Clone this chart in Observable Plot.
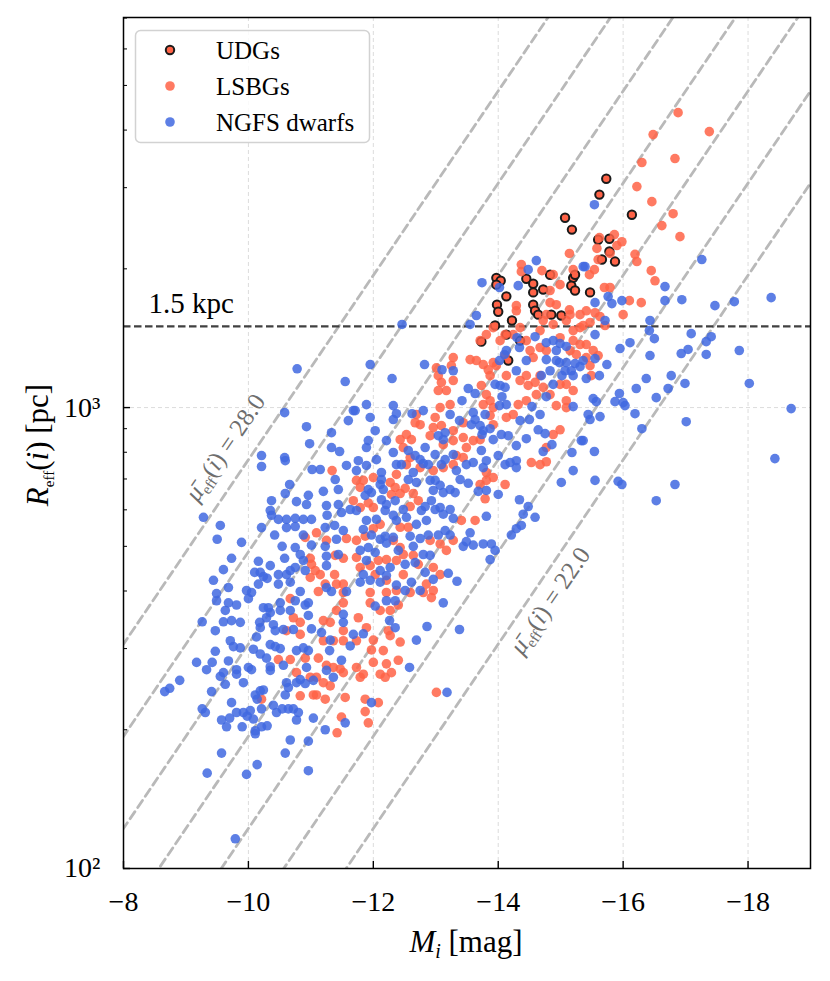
<!DOCTYPE html>
<html><head><meta charset="utf-8">
<script src="https://cdn.jsdelivr.net/npm/d3@7"></script>
<script src="https://cdn.jsdelivr.net/npm/@observablehq/plot@0.6"></script>
<style>
body{margin:0;background:#fff;}
#wrap{width:830px;height:981px;}
</style></head><body><div id="wrap"></div>
<script>
// ---- tick values ----
const xTicks = [-8,-10,-12,-14,-16,-18];
const yMajor = [100, 1000];
const yMinor = [200,300,400,500,600,700,800,900,2000,3000,4000,5000,6000,7000];
// ---- reference lines ----
const muLevels = [22,23,24,25,26,27,28];
const muLabelLevel = [28, 22];
const muLabelM = [-9.63, -14.83];
const muLabelR = [819, 381];
const sizeLimit = 1500; // pc
const legendNames = ["UDGs","LSBGs","NGFS dwarfs"];

// ---- data: [M_i, R_eff (pc)] ----
const udg = [[-15.07,2582],[-15.18,2433],[-13.97,1912],[-14.04,1884],[-13.97,1848],[-14.45,1903],[-14.56,1856],[-14.83,1942],[-14.13,1743],[-14.56,1778],[-14.72,1804],[-15.20,1912],[-15.23,1942],[-15.17,1839],[-15.23,1795],[-13.98,1672],[-14.56,1672],[-15.73,3136],[-15.62,2898],[-16.14,2620],[-15.60,2313],[-15.78,2324],[-15.78,2182],[-15.66,2095],[-15.87,2074],[-15.47,1778],[-13.95,1507],[-14.22,1545],[-14.00,1614],[-14.59,1622],[-14.64,1591],[-14.85,1591],[-15.01,1584],[-14.13,1440],[-13.73,1390],[-14.35,1397],[-14.16,1265]];

const lsbg = [[-15.14,2160],[-14.37,2043],[-14.37,1972],[-14.70,1982],[-14.88,1943],[-14.99,1848],[-14.83,1795],[-15.20,1992],[-14.29,1664],[-14.83,1689],[-14.93,1672],[-15.14,1630],
[-16.88,4364],[-16.48,3911],[-17.38,3970],[-16.30,3402],[-16.83,3470],[-16.22,3016],[-16.46,2798],[-16.80,2634],[-16.62,2482],[-16.91,2349],[-15.86,2373],[-15.62,2337],[-15.98,2290],[-15.90,2247],[-15.58,2215],[-15.79,2160],[-15.60,2095],[-16.19,2150],[-16.22,2074],[-15.54,1992],[-15.46,1943],[-16.45,1982],[-16.51,1884],[-15.70,1822],[-15.79,1822],[-16.10,1706],[-16.29,1689],
[-16.00,1591],[-15.41,1622],[-15.55,1606],[-15.63,1576],[-15.47,1530],[-15.71,1507],[-15.36,1507],[-15.41,1370],[-15.52,1330],[-15.41,1284],[-15.60,1297],[-15.47,1233],[-15.49,1173],
[-11.34,730],[-11.09,535],[-10.91,523],[-11.57,520],[-11.25,515],[-10.99,471],[-11.01,457],[-11.39,478],[-11.52,471],[-11.07,443],[-11.15,434],[-10.99,428],[-11.38,434],[-11.41,414],[-11.52,414],[-11.23,414],[-11.12,399],[-11.52,397],
[-10.67,385],[-10.48,284],[-10.67,284],[-10.77,266],[-10.91,286],[-10.83,237],[-11.04,238],[-11.09,238],[-11.23,233],[-10.21,233],[-11.25,276],[-11.36,273],[-11.47,271],[-11.52,266],[-11.55,235],[-11.49,213],[-11.42,197],[-11.12,286],[-11.20,253],[-11.31,249],[-11.20,312],[-11.36,312],[-11.52,312],[-11.52,328],[-11.31,342],[-11.20,345],[-11.41,363],[-11.52,377],[-11.09,260],[-10.99,260],[-10.61,328],[-10.83,342],[-10.83,322],[-10.72,350],
[-11.95,377],[-12.11,363],[-12.27,363],[-12.40,373],[-11.76,350],[-11.89,333],[-12.24,328],[-12.27,320],[-12.43,310],[-11.73,312],[-12.00,313],[-11.97,298],[-12.16,297],[-12.40,283],[-12.21,278],[-12.00,280],[-11.73,273],[-11.84,264],[-11.79,260],[-12.11,264],[-12.19,260],[-12.29,266],[-11.87,233],[-12.08,229],[-11.87,219],[-11.92,207],[-13.01,241],[-12.93,387],
[-13.71,1397],[-13.81,1440],[-13.92,1491],[-14.11,1440],[-14.03,1397],[-13.55,1271],[-13.65,1265],[-13.76,1240],[-13.84,1208],[-13.87,1173],[-13.92,1252],[-13.28,1284],[-13.25,1233],[-13.01,1220],[-13.04,1173],[-13.09,1134],[-13.04,1089],[-13.17,1089],[-13.28,1145],[-13.73,1117],[-13.81,1067],[-13.87,1035],[-13.76,1015],[-13.92,1000],[-13.87,961],[-13.92,918],[-13.71,852],[-13.60,848],[-13.44,861],[-13.49,819],[-13.28,848],[-13.12,831],[-13.28,891],[-13.44,927],[-13.23,1015],[-13.07,1000],[-12.99,952],[-13.09,914],[-12.96,905],[-12.91,869],[-12.75,918],[-12.67,927],[-12.69,966],[-12.61,852],[-12.53,874],[-12.43,852],[-12.48,819],[-12.59,779],[-12.53,752],[-12.75,741],[-12.96,730],[-13.12,741],[-13.28,752],[-13.33,787],[-13.44,779],[-13.81,723],[-13.92,705],[-13.81,695],[-13.71,681],[-13.79,634],[-14.11,681],[-14.53,760],[-14.77,763],[-12.37,716],[-12.27,688],[-12.35,671],[-12.43,651],[-12.51,668],[-12.64,651],[-12.72,628],[-12.59,610],[-12.29,648],[-12.00,705],[-11.84,695],[-11.73,695],[-11.79,671],[-12.00,607],[-11.79,607],[-11.92,621],[-11.68,628],[-12.11,558],[-12.00,546],[-11.87,526],[-11.73,515],[-12.43,550],[-12.56,550],[-12.32,515],[-12.43,497],[-12.48,480],[-12.64,478],[-12.72,457],[-12.37,466],[-12.21,468],[-12.08,466],[-11.95,454],[-11.73,473],[-11.79,450],[-12.03,434],[-12.21,422],[-12.48,434],[-12.91,515],[-13.07,506],[-13.17,490],[-13.28,515],[-13.41,569],[-13.63,569],[-12.96,450],[-13.07,434],[-12.85,414],[-12.96,401],[-12.80,397],[-12.59,397],[-12.21,397],[-11.95,397],[-12.37,401],
[-14.45,1173],[-14.59,1134],[-14.48,1117],[-14.35,1145],[-14.61,1067],[-14.32,1015],[-14.45,1035],[-14.24,966],[-14.13,952],[-14.67,1173],[-14.72,1106],[-14.83,1067],[-14.93,1010],[-15.09,1035],[-15.20,1089],[-15.09,1123],[-14.99,1123],[-14.51,1330],[-14.67,1350],[-14.56,1284],[-14.77,1330],[-15.15,1330],[-15.25,1304],[-15.31,1370],[-15.20,1397],[-14.99,1418],[-14.88,1515],[-14.67,1469],[-14.45,1397],[-14.24,1440],[-14.35,1491],[-14.72,1545],[-15.09,1545],[-15.20,1469],[-15.31,1491],[-15.15,1591],[-14.77,1591],[-14.29,1622],[-15.31,1591],[-14.11,1297],[-13.97,1233],[-14.13,1173],[-14.67,752],[-15.09,1000],[-14.99,895],[-14.88,874],[-14.77,819]];

const ngfs = [[-14.61,2084],[-14.48,1992],[-13.74,1866],[-14.32,1839],[-14.02,1822],[-15.36,2022],[-15.54,2755],[-15.39,2022],[-17.26,2095],[-16.67,1830],[-15.76,1741],[-15.55,1689],[-15.82,1681],[-15.98,1706],[-16.67,1706],[-16.94,1714],[-17.47,1664],[-17.78,1697],[-18.37,1732],
[-15.71,1545],[-16.43,1545],[-15.55,1440],[-16.42,1469],[-16.50,1411],[-17.09,1447],[-17.41,1425],[-17.33,1390],[-16.11,1383],[-15.95,1343],[-17.04,1337],[-16.93,1310],[-17.33,1304],[-16.43,1297],[-17.86,1330],[-15.55,1277],[-15.36,1265],[-15.74,1240],[-15.62,1173],[-15.41,1156],[-16.77,1173],[-16.37,1156],[-16.99,1128],[-18.02,1128],[-16.21,1100],[-16.72,1100],[-16.53,1051],[-15.94,1073],[-15.52,1046],[-15.57,1030],[-15.87,1030],[-16.00,1025],[-16.03,1010],[-16.19,970],[-15.44,966],[-15.47,942],[-15.63,956],[-18.69,995],[-17.01,932],[-16.30,900],[-15.36,848],[-15.54,803],[-18.43,775],[-15.55,695],[-15.92,692],[-15.98,681],[-16.83,681],[-16.53,628],
[-10.78,1214],[-11.55,1139],[-10.58,975],[-11.68,985],[-11.60,937],[-10.93,909],[-11.33,882],[-10.98,835],[-11.33,819],[-11.46,803],[-10.21,787],[-10.21,745],[-10.58,779],[-10.59,767],[-11.02,734],[-11.15,734],[-11.57,749],[-11.39,698],[-11.20,658],[-11.44,664],[-10.96,645],[-10.66,681],[-10.59,651],[-10.77,625],[-10.93,616],[-10.37,628],[-10.35,598],[-10.37,584],[-11.25,613],[-11.44,616],[-11.49,592],[-11.63,601],[-11.26,584],[-9.28,578],[-9.55,555],[-10.21,549],[-10.48,572],[-10.61,572],[-10.75,575],[-10.88,572],[-11.01,572],[-10.61,549],[-10.75,552],[-10.42,529],[-10.88,529],[-11.01,503],[-11.23,549],[-11.38,555],[-11.52,541],[-11.23,500],[-11.41,518],[-9.50,518],[-9.89,510],[-10.54,500],[-10.75,497],[-10.83,480],[-11.25,476],[-11.44,480],[-10.58,471],[-10.88,466],[-9.73,471],[-10.16,464],[-10.35,454],[-9.60,445],[-10.10,439],[-10.19,439],[-10.24,430],[-10.48,434],[-10.61,434],[-10.67,443],[-10.75,450],[-10.91,443],[-11.25,454],[-9.44,422],[-9.68,407],[-10.16,414],[-10.30,426],[-10.48,414],[-10.67,418],[-10.83,399],[-9.97,401],[-10.05,397],[-9.49,395],[-11.25,407],[-11.33,399],[-11.57,399],
[-9.49,381],[-9.68,377],[-9.81,373],[-9.63,363],[-9.26,343],[-9.60,343],[-9.73,345],[-9.87,342],[-9.47,328],[-9.71,312],[-9.76,303],[-9.87,301],[-9.47,296],[-9.42,280],[-9.17,280],[-9.33,270],[-9.68,282],[-9.60,266],[-9.55,261],[-9.81,270],[-9.81,264],[-9.92,253],[-9.63,251],[-8.90,256],[-8.74,246],[-8.66,242],[-9.41,242],[-9.26,222],[-9.31,218],[-9.73,229],[-9.81,218],[-9.92,218],[-10.03,220],[-9.98,214],[-9.57,210],[-9.70,212],[-9.65,203],[-9.90,203],[-10.08,211],[-10.11,199],[-10.11,196],[-10.21,203],[-10.30,204],[-9.57,178],[-9.34,161],[-9.97,160],[-10.14,168],[-9.79,116],
[-10.00,385],[-10.24,368],[-10.35,359],[-10.29,350],[-10.18,342],[-10.19,333],[-10.40,338],[-10.51,363],[-10.67,363],[-10.43,328],[-10.56,330],[-10.72,330],[-10.13,318],[-10.08,299],[-10.19,292],[-10.29,286],[-10.35,306],[-10.43,303],[-10.51,300],[-10.35,274],[-10.35,269],[-10.00,273],[-10.05,270],[-10.56,276],[-10.61,253],[-10.64,247],[-10.77,253],[-10.59,238],[-10.11,238],[-10.19,243],[-10.24,244],[-10.14,233],[-10.21,222],[-10.40,226],[-10.45,218],[-10.54,222],[-10.64,222],[-10.72,222],[-10.80,218],[-10.77,210],[-11.04,212],[-11.23,200],[-10.67,190],[-10.59,178],[-10.96,189],[-10.96,163],[-10.77,297],[-10.88,301],[-10.96,297],[-10.93,273],[-11.04,256],[-10.83,257],[-10.91,252],[-11.25,269],[-11.36,260],[-11.49,283],[-11.30,297],[-11.31,313],[-11.55,207],[-11.63,304],[-11.17,325],[-11.01,331],[-10.96,354],[-10.91,373],[-10.51,377],[-10.75,381],[-10.96,377],[-11.52,356],[-11.52,342],[-10.32,368],
[-12.03,371],[-12.21,381],[-12.35,381],[-13.12,377],[-12.26,345],[-12.35,333],[-12.86,335],[-13.38,330],[-12.69,313],[-11.84,323],[-11.68,322],[-12.58,273],[-13.18,241],[-11.97,229],
[-12.46,1515],[-13.55,1515],[-13.65,1584],[-11.95,1240],[-12.30,1156],[-12.82,1240],[-11.89,1015],[-11.71,985],[-11.95,952],[-12.32,1010],[-12.37,970],[-12.32,942],[-12.62,970],[-12.80,985],[-13.52,1100],[-13.63,1073],[-13.42,1035],[-13.23,966],[-13.38,937],[-13.15,882],[-13.10,1208],[-13.28,1202],[-13.60,975],[-13.63,942],[-13.79,966],[-13.57,918],[-13.71,914],[-13.76,891],[-13.74,874],[-13.87,900],[-14.05,874],[-14.16,869],[-14.29,827],[-14.00,787],[-14.19,760],[-14.29,767],[-14.29,741],[-14.11,752],[-13.92,852],[-13.73,807],[-13.81,767],[-13.76,741],[-13.60,760],[-13.49,752],[-13.33,730],[-13.39,698],[-13.52,685],[-13.81,661],[-13.68,658],[-14.00,648],[-14.34,631],[-14.48,610],[-14.40,587],[-14.59,578],[-14.37,555],[-14.29,546],[-14.21,529],[-13.81,581],[-13.55,535],[-13.49,512],[-13.60,503],[-13.44,500],[-13.76,506],[-13.89,506],[-13.95,490],[-13.87,468],[-13.34,420],[-13.20,437],[-12.96,424],[-12.83,439],[-12.67,461],[-12.51,457],[-12.40,490],[-12.27,450],[-12.21,432],[-12.11,443],[-11.95,422],[-11.84,434],[-11.79,418],[-12.11,418],[-12.61,418],[-12.75,401],[-12.51,401],[-12.37,412],
[-14.02,1010],[-14.13,1015],[-14.06,1056],[-14.03,1117],[-14.11,1106],[-13.95,1123],[-14.34,1350],[-14.30,1418],[-14.45,1265],[-14.29,1202],[-14.10,1304],[-14.02,1265],[-14.13,1330],[-14.59,1425],[-14.77,1383],[-14.88,1397],[-14.99,1377],[-15.09,1357],[-14.93,1330],[-14.77,1271],[-14.93,1265],[-15.09,1252],[-15.23,1246],[-15.31,1227],[-15.17,1202],[-15.07,1202],[-15.20,1173],[-15.02,1173],[-14.98,1252],[-14.83,1202],[-14.69,1173],[-14.88,1123],[-14.77,1056],[-14.54,1005],[-14.67,966],[-14.50,942],[-14.64,895],[-14.75,878],[-14.45,856],[-14.86,831],[-14.72,803],[-15.20,1005],[-15.18,799],[-15.33,848],[-15.20,730],[-15.01,688],[-14.35,937],
[-11.76,767],[-11.89,749],[-12.05,771],[-12.21,848],[-11.92,848],[-12.03,891],[-11.89,819],[-11.73,730],[-12.13,723],[-12.13,698],[-12.11,681],[-12.16,664],[-11.92,664],[-11.97,654],[-11.87,645],[-12.13,631],[-12.21,616],[-12.35,628],[-12.19,598],[-12.32,584],[-12.05,572],[-11.89,569],[-11.73,598],[-11.84,544],[-11.97,529],[-12.11,518],[-12.21,508],[-12.19,526],[-12.32,523],[-11.92,497],[-11.79,490],[-11.89,466],[-12.03,485],[-12.32,799],[-12.37,752],[-12.45,752],[-12.56,807],[-12.67,787],[-12.75,771],[-12.83,819],[-12.80,756],[-12.88,752],[-12.56,698],[-12.69,688],[-12.64,723],[-12.91,695],[-12.99,695],[-13.07,678],[-12.96,661],[-13.12,654],[-13.23,664],[-13.31,654],[-12.93,628],[-12.83,610],[-12.77,598],[-12.99,601],[-13.07,607],[-13.12,587],[-13.23,601],[-13.28,575],[-12.85,569],[-12.48,601],[-12.53,578],[-12.37,569],[-12.69,558],[-13.04,529],[-13.15,541],[-13.23,529],[-12.88,529],[-12.75,520],[-12.59,526],[-12.64,500],[-12.80,480],[-12.91,478],[-13.09,752],[-13.15,771],[-13.28,791],[-12.99,791],[-13.12,852],[-13.04,869]];

// ---- derived: constant mean effective surface brightness lines ----
const muConst = 36.57 + 2.5 * Math.log10(2 * Math.PI);
const muLines = muLevels.flatMap(mu => [-7.5, -19.5].map(M => ({mu, M, R: 1000 * Math.pow(10, (mu - M - muConst) / 5)})));
const muLabelData = muLabelLevel.map((mu, i) => ({mu, M: muLabelM[i], R: muLabelR[i]}));

const FONT = "'Liberation Serif', 'DejaVu Serif', serif";
const BLUE = "#4169E1", RED = "#FF6347";
const xy = {x: d => d[0], y: d => d[1]};

const plot = Plot.plot({
  width: 830, height: 981,
  marginLeft: 123, marginRight: 20, marginTop: 17, marginBottom: 113,
  x: {domain: [-8, -19], label: null},
  y: {type: "log", domain: [100, 7020], label: null},
  style: {fontFamily: FONT, fontSize: "28px", background: "white", color: "black", overflow: "visible"},
  marks: [
    Plot.ruleX(xTicks.slice(1), {stroke: "#dcdcdc", strokeWidth: 1, strokeDasharray: "4,3"}),
    Plot.ruleY([1000], {stroke: "#dcdcdc", strokeWidth: 1, strokeDasharray: "4,3"}),
    Plot.line(muLines, {x: "M", y: "R", z: "mu", stroke: "#b9b9b9", strokeWidth: 2.8, strokeDasharray: "8.5,5", clip: true}),
    Plot.ruleY([sizeLimit], {stroke: "#404040", strokeWidth: 2.3, strokeDasharray: "7.5,3.5"}),
    Plot.dot(udg, {...xy, r: 4.2, fill: RED, stroke: "#1a1a1a", strokeWidth: 2}),
    Plot.dot(lsbg, {...xy, r: 4.8, fill: RED, fillOpacity: 0.85}),
    Plot.dot(ngfs, {...xy, r: 4.8, fill: BLUE, fillOpacity: 0.85}),
    Plot.text(muLabelData, {x: "M", y: "R", text: d => "MU|" + d.mu.toFixed(1), rotate: -55.9, fill: "#6e6e6e", fontSize: 25, textAnchor: "middle"}),
    Plot.text([{M: -8.4, R: sizeLimit, t: "1.5 kpc"}], {x: "M", y: "R", text: "t", textAnchor: "start", lineAnchor: "bottom", dy: -13, fontSize: 29}),
    Plot.frame({stroke: "black", strokeWidth: 1.5}),
    // inward ticks: start inside the frame and run back to the axis line
    Plot.axisX({ticks: xTicks, tickSize: 7, dy: -7, tickFormat: () => "", strokeWidth: 1.4, label: null}),
    Plot.axisX({ticks: xTicks, tickSize: 0, tickPadding: 23, tickFormat: d => "\u2212" + Math.abs(d), fontSize: 28, label: null}),
    Plot.axisY({ticks: yMajor, tickSize: 7, dx: 7, tickFormat: () => "", strokeWidth: 1.4, label: null}),
    Plot.axisY({ticks: yMinor, tickSize: 4, dx: 4, tickFormat: () => "", strokeWidth: 1, label: null}),
    Plot.axisY({ticks: yMajor, tickSize: 0, tickPadding: 23, tickFormat: d => d === 100 ? "10\u00B2" : "10\u00B3", fontSize: 28, label: null})
  ]
});
document.getElementById("wrap").appendChild(plot);

const svg = d3.select(plot);
// rich text for the surface-brightness labels
svg.selectAll("text").filter(function(){ return this.textContent.startsWith("MU|"); }).each(function(){
  const val = this.textContent.split("|")[1];
  const t = d3.select(this); t.text("");
  t.append("tspan").attr("font-style", "italic").text("\u03BC\u0304");
  t.append("tspan").attr("font-size", "15px").attr("dy", "5").text("eff");
  t.append("tspan").attr("dy", "-5").text("(");
  t.append("tspan").attr("font-style", "italic").text("i");
  t.append("tspan").text(") = " + val);
});
// axis labels
const xl = svg.append("text").attr("x", 466).attr("y", 952).attr("text-anchor", "middle")
  .attr("font-family", FONT).attr("font-size", 31).attr("fill", "black");
xl.append("tspan").attr("font-style", "italic").text("M");
xl.append("tspan").attr("font-style", "italic").attr("font-size", 20).attr("dy", 6).text("i");
xl.append("tspan").attr("dy", -6).text(" [mag]");
const yl = svg.append("text").attr("transform", "translate(48,445) rotate(-90)").attr("text-anchor", "middle")
  .attr("font-family", FONT).attr("font-size", 31).attr("fill", "black");
yl.append("tspan").attr("font-style", "italic").text("R");
yl.append("tspan").attr("font-size", 15).attr("dy", 6).text("eff");
yl.append("tspan").attr("dy", -6).text("(");
yl.append("tspan").attr("font-style", "italic").text("i");
yl.append("tspan").text(") [pc]");
// legend
const lg = svg.append("g").attr("font-family", FONT).attr("font-size", 25).attr("text-anchor", "start");
lg.append("rect").attr("x", 135.5).attr("y", 30.5).attr("width", 234).attr("height", 112).attr("rx", 5)
  .attr("fill", "white").attr("fill-opacity", 0.85).attr("stroke", "#d2d2d2").attr("stroke-width", 1.5);
const ly = [50, 86, 122];
const lstyle = [{fill: RED, stroke: "#1a1a1a", sw: 2, r: 4.2, op: 1}, {fill: RED, stroke: "none", sw: 0, r: 4.8, op: 0.85}, {fill: BLUE, stroke: "none", sw: 0, r: 4.8, op: 0.85}];
legendNames.forEach((name, i) => {
  const s = lstyle[i];
  lg.append("circle").attr("cx", 170).attr("cy", ly[i]).attr("r", s.r).attr("fill", s.fill).attr("fill-opacity", s.op)
    .attr("stroke", s.stroke).attr("stroke-width", s.sw);
  lg.append("text").attr("x", 216).attr("y", ly[i] + 8.5).attr("text-anchor", "start").attr("fill", "black").text(name);
});
</script></body></html>
